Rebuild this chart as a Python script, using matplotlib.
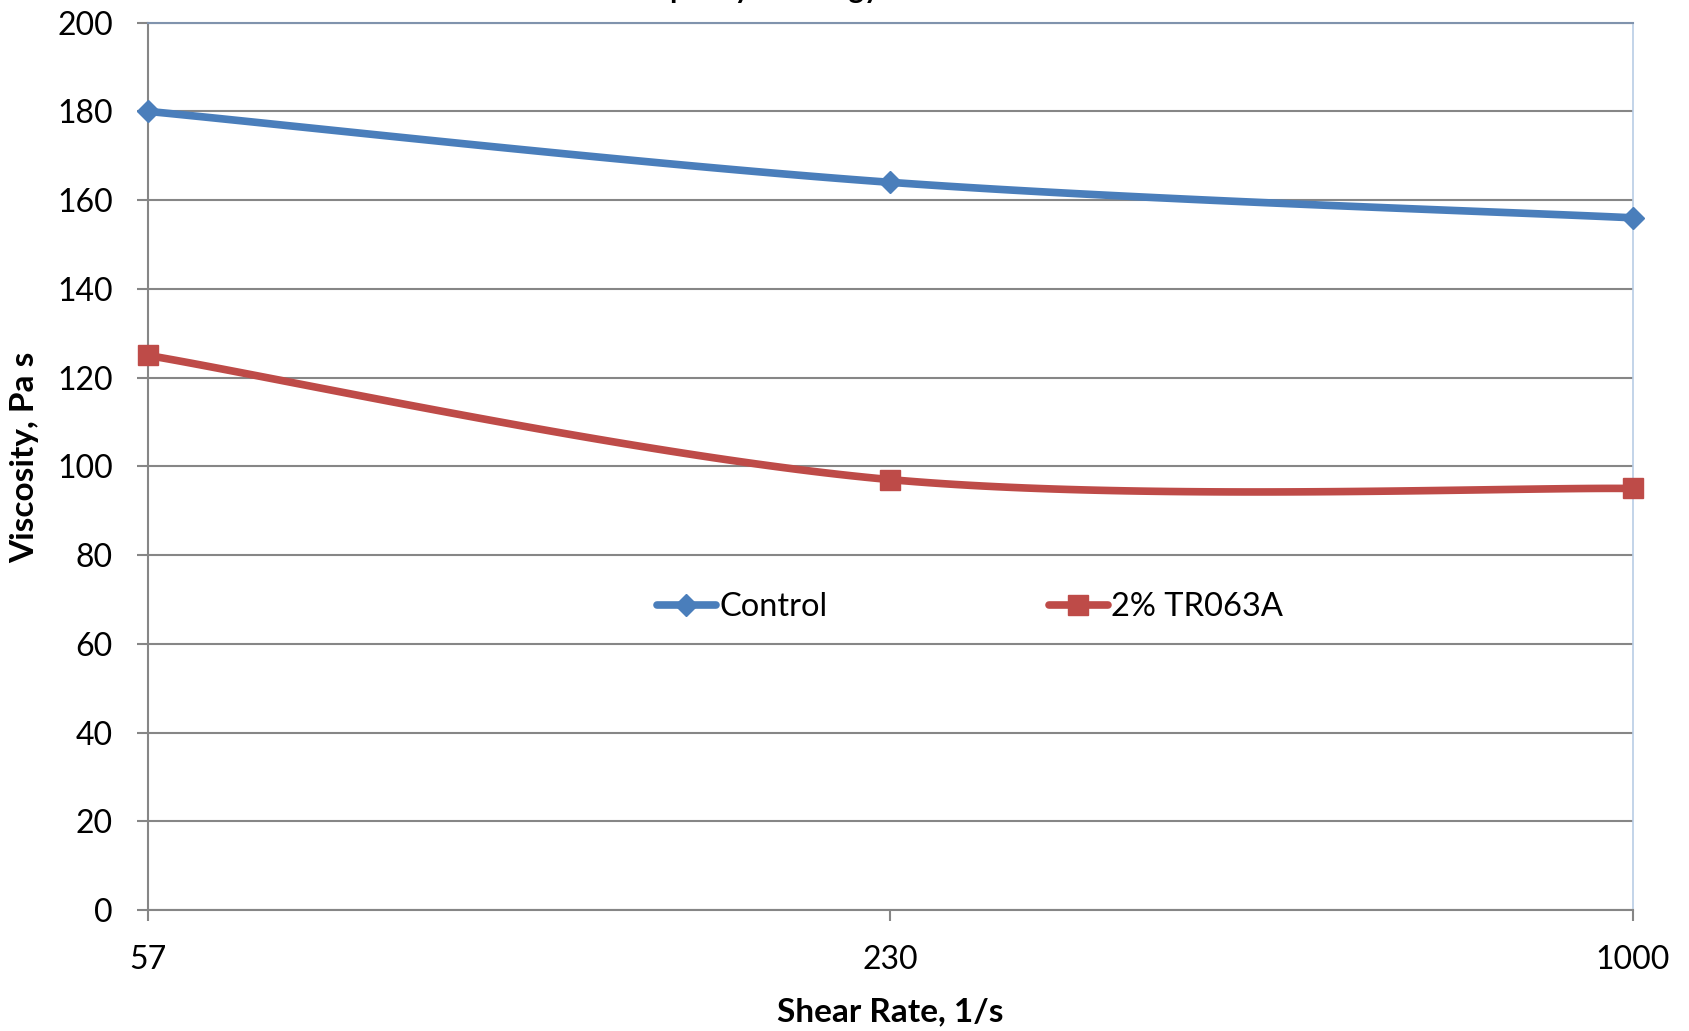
import numpy as np
import matplotlib
matplotlib.use("Agg")
import matplotlib.pyplot as plt
from matplotlib.lines import Line2D

plt.rcParams['font.family'] = ['Lato', 'DejaVu Sans']

shear_rates = ["57", "230", "1000"]
control = [180, 164, 156]
tr063a = [125, 97, 95]
series_names = ["Control", "2% TR063A"]
y_ticks = [0, 20, 40, 60, 80, 100, 120, 140, 160, 180, 200]

BLUE = "#4a7ebb"
RED = "#be4b48"
GRID = "#868686"


def smooth(xs, ys, n=60):
    # Excel-style smoothed line (Catmull-Rom Bezier through the points)
    P = np.column_stack([xs, ys]).astype(float)
    Pext = np.vstack([P[0], P, P[-1]])
    out = []
    for i in range(len(P) - 1):
        p0, p1, p2, p3 = Pext[i], Pext[i + 1], Pext[i + 2], Pext[i + 3]
        c1 = p1 + (p2 - p0) / 6.0
        c2 = p2 - (p3 - p1) / 6.0
        t = np.linspace(0, 1, n)[:, None]
        seg = ((1 - t) ** 3) * p1 + 3 * ((1 - t) ** 2) * t * c1 + 3 * (1 - t) * t ** 2 * c2 + t ** 3 * p2
        out.append(seg if i == 0 else seg[1:])
    s = np.vstack(out)
    return s[:, 0], s[:, 1]


fig = plt.figure(figsize=(16.89, 10.31), dpi=100)
ax = fig.add_axes([147.6 / 1689, 1 - 910 / 1031, (1633 - 147.6) / 1689, (910 - 22.6) / 1031])

LW = 5.5
x = np.arange(len(shear_rates))
for vals, col, mk, ms in [(control, BLUE, 'D', 11), (tr063a, RED, 's', 15)]:
    sx, sy = smooth(x, vals)
    ax.plot(sx, sy, color=col, lw=LW, solid_capstyle='round', zorder=3, clip_on=False)
    ax.plot(x, vals, linestyle='none', marker=mk, ms=ms, color=col, zorder=4, clip_on=False)

ax.set_xlim(0, 2)
ax.set_ylim(0, 200)
ax.set_xticks(x)
ax.set_xticklabels(shear_rates)
ax.set_yticks(y_ticks)
ax.tick_params(axis='both', labelsize=23, colors=GRID, labelcolor='black', length=8, width=1.5, pad=17)
ax.grid(axis='y', color=GRID, lw=1.5, zorder=1)
ax.set_axisbelow(True)
for s in ['left', 'bottom']:
    ax.spines[s].set_color(GRID)
    ax.spines[s].set_linewidth(1.5)
ax.spines['top'].set_color('#8093ad')
ax.spines['top'].set_linewidth(1.5)
ax.spines['right'].set_color('#b9cde5')
ax.spines['right'].set_linewidth(1.2)

handles = [Line2D([], [], color=BLUE, lw=LW, marker='D', ms=11, solid_capstyle='round'),
           Line2D([], [], color=RED, lw=LW, marker='s', ms=15, solid_capstyle='round')]
fig.legend(handles, series_names, loc='center left', bbox_to_anchor=(657 / 1689, 1 - 607 / 1031),
           frameon=False, ncol=2, fontsize=23.5, handlelength=1.8, handletextpad=0.1,
           columnspacing=6.8, borderpad=0, borderaxespad=0)

fig.text(890 / 1689, 1 - 1012 / 1031, "Shear Rate, 1/s", ha='center', va='center', fontsize=24, fontweight='bold')
fig.text(25 / 1689, 1 - 457 / 1031, "Viscosity, Pa s", ha='center', va='center', rotation=90, fontsize=24, fontweight='bold')
fig.text(758 / 1689, 1 + 2 / 1031, "Capillary Rheology", ha='center', va='baseline', fontsize=21, fontweight='bold')

fig.savefig("out.png", dpi=100)
